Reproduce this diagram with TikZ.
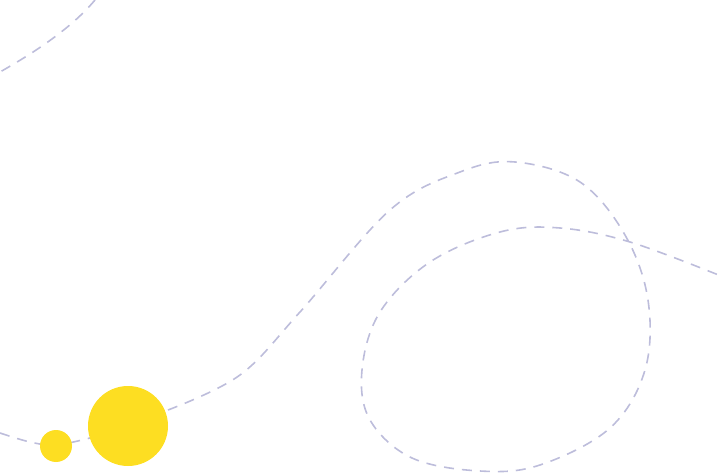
\documentclass[tikz,border=0pt]{standalone}
\colorlet{trail color}{blue!30!gray!40}
\definecolor{sun color}{HTML}{FDDE22}
\tikzset{
    x={1pt},
    y={-1pt},
    trail/.style={
        draw=trail color,
        line width={1.6pt},
        dash pattern=on 10pt off 8pt,
    },
    sun/.style={
        circle, fill=sun color,
        inner sep=0pt, outer sep=0pt,
        minimum size={#1},
    },
}
\begin{document}
\begin{tikzpicture}
\useasboundingbox (0,0) rectangle (721,473);
% trails
\path[trail] (95,0) .. controls (70,30) and (30,55) .. (0,72);
\path[trail] plot[smooth, tension=0.6] coordinates {(0,433) (30,442) (56,445) (90,438)};
\path[trail] plot[smooth, tension=0.6] coordinates {(168,410) (240,375) (300,312) (390,210) (460,172) (515,162) (580,182) (625,235) (648,300) (645,370) (610,428) (540,465) (480,471) (412,458) (370,420) (362,370) (380,312) (430,262) (500,232) (560,228) (630,242) (721,276)};
% suns
\node[sun={32pt}] (small sun) at (56,446) {};
\node[sun={80pt}] (big sun) at (128,426) {};
\end{tikzpicture}
\end{document}
